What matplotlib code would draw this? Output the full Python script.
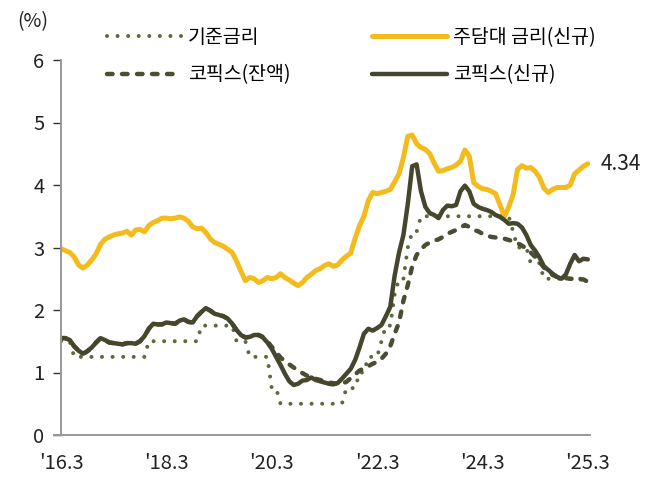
import numpy as np
import matplotlib.pyplot as plt

plt.rcParams['font.family'] = ['Noto Sans CJK KR', 'DejaVu Sans']
plt.rcParams['lines.scale_dashes'] = False

# monthly data, '16.3 onward (121 points)
base_rate = [1.5, 1.5, 1.5,
             1.25, 1.25, 1.25, 1.25, 1.25, 1.25, 1.25, 1.25, 1.25, 1.25,
             1.25, 1.25, 1.25, 1.25, 1.25, 1.25, 1.25,
             1.5, 1.5, 1.5, 1.5, 1.5, 1.5, 1.5, 1.5, 1.5, 1.5, 1.5, 1.5,
             1.75, 1.75, 1.75, 1.75, 1.75, 1.75, 1.75, 1.75,
             1.5, 1.5, 1.5,
             1.25, 1.25, 1.25, 1.25, 1.25,
             0.75, 0.75,
             0.5, 0.5, 0.5, 0.5, 0.5, 0.5, 0.5, 0.5, 0.5, 0.5, 0.5, 0.5,
             0.5, 0.5, 0.5,
             0.75, 0.75, 0.75,
             1.0, 1.0,
             1.25, 1.25, 1.25,
             1.5,
             1.75, 1.75,
             2.25,
             2.5, 2.5,
             3.0,
             3.25, 3.25,
             3.5, 3.5, 3.5, 3.5, 3.5, 3.5, 3.5, 3.5, 3.5, 3.5, 3.5, 3.5,
             3.5, 3.5, 3.5, 3.5, 3.5, 3.5, 3.5, 3.5, 3.5,
             3.25,
             3.0, 3.0, 3.0,
             2.75, 2.75, 2.75,
             2.5, 2.5, 2.5, 2.5, 2.5, 2.5, 2.5, 2.5, 2.5, 2.5, 2.5]

mortgage_new = [2.98, 2.95, 2.92, 2.85, 2.72, 2.67, 2.72, 2.80, 2.90, 3.05,
                3.13, 3.17, 3.20, 3.22, 3.23, 3.26, 3.20, 3.28, 3.29, 3.25,
                3.35, 3.40, 3.43, 3.47, 3.47, 3.46, 3.47, 3.49, 3.47, 3.42,
                3.33, 3.30, 3.31, 3.24, 3.14, 3.08, 3.05, 3.02, 2.97, 2.92,
                2.78, 2.62, 2.47, 2.52, 2.50, 2.44, 2.47, 2.52, 2.50, 2.52,
                2.58, 2.52, 2.48, 2.43, 2.39, 2.44, 2.52, 2.57, 2.63, 2.66,
                2.71, 2.74, 2.70, 2.72, 2.80, 2.86, 2.91, 3.15, 3.35, 3.50,
                3.75, 3.88, 3.86, 3.88, 3.90, 3.93, 4.05, 4.18, 4.44, 4.78,
                4.80, 4.66, 4.60, 4.57, 4.50, 4.35, 4.22, 4.23, 4.26, 4.28,
                4.32, 4.38, 4.56, 4.46, 4.04, 3.98, 3.94, 3.93, 3.90, 3.86,
                3.68, 3.50, 3.65, 3.85, 4.25, 4.31, 4.27, 4.28, 4.22, 4.12,
                3.95, 3.88, 3.93, 3.96, 3.96, 3.96, 4.00, 4.18, 4.24, 4.30,
                4.34]

cofix_new = [1.55, 1.55, 1.52, 1.42, 1.35, 1.30, 1.34, 1.40, 1.48, 1.55,
             1.52, 1.48, 1.47, 1.46, 1.45, 1.47, 1.47, 1.46, 1.50, 1.58,
             1.70, 1.78, 1.77, 1.77, 1.80, 1.79, 1.78, 1.83, 1.85, 1.81,
             1.80, 1.90, 1.97, 2.03, 1.99, 1.94, 1.92, 1.90, 1.86, 1.78,
             1.68, 1.60, 1.56, 1.57, 1.60, 1.60, 1.56, 1.48, 1.38, 1.25,
             1.12, 0.98, 0.86, 0.80, 0.82, 0.87, 0.88, 0.92, 0.88, 0.86,
             0.84, 0.82, 0.81, 0.83, 0.90, 0.98, 1.06, 1.20, 1.40, 1.62,
             1.70, 1.67, 1.71, 1.76, 1.90, 2.05, 2.55, 2.92, 3.20, 3.70,
             4.30, 4.33, 3.90, 3.65, 3.55, 3.52, 3.47, 3.60, 3.67, 3.66,
             3.68, 3.90, 3.99, 3.90, 3.70, 3.65, 3.62, 3.60, 3.57, 3.52,
             3.49, 3.44, 3.38, 3.39, 3.38, 3.32, 3.20, 3.04, 2.95, 2.84,
             2.70, 2.64, 2.58, 2.53, 2.50, 2.57, 2.74, 2.88, 2.78, 2.82,
             2.81]

cofix_bal = [1.55, 1.55, 1.52, 1.42, 1.35, 1.30, 1.34, 1.40, 1.48, 1.55,
             1.52, 1.48, 1.47, 1.46, 1.45, 1.47, 1.47, 1.46, 1.50, 1.58,
             1.70, 1.78, 1.77, 1.77, 1.80, 1.79, 1.78, 1.83, 1.85, 1.81,
             1.80, 1.90, 1.97, 2.03, 1.99, 1.94, 1.92, 1.90, 1.86, 1.78,
             1.68, 1.60, 1.56, 1.57, 1.60, 1.60, 1.57, 1.50, 1.41, 1.33,
             1.24, 1.18, 1.13, 1.08, 1.03, 0.99, 0.95, 0.93, 0.90, 0.88,
             0.86, 0.84, 0.83, 0.82, 0.82, 0.85, 0.91, 0.97, 1.03, 1.07,
             1.10, 1.14, 1.17, 1.22, 1.30, 1.42, 1.62, 1.80, 2.15, 2.40,
             2.70, 2.88, 2.97, 3.04, 3.08, 3.11, 3.13, 3.17, 3.22, 3.25,
             3.28, 3.32, 3.36, 3.33, 3.28, 3.26, 3.22, 3.19, 3.17, 3.16,
             3.15, 3.14, 3.12, 3.10, 3.07, 3.03, 2.98, 2.92, 2.85, 2.77,
             2.68, 2.62, 2.56, 2.53, 2.52, 2.51, 2.50, 2.50, 2.49, 2.49,
             2.45]

tick_pos = [0, 24, 48, 72, 96, 120]
tick_labels = ["'16.3", "'18.3", "'20.3", "'22.3", "'24.3", "'25.3"]

YELLOW = '#F3BC1C'
DARK = '#46462D'
DASH = '#4C4D33'
OLIVE = '#5B6A3A'

fig = plt.figure(figsize=(6.56, 4.82), dpi=100)
ax = fig.add_axes([61 / 656, 1 - 435 / 482, 529 / 656, 375 / 482])

x = np.arange(len(base_rate))
ax.plot(x, base_rate, color=OLIVE, lw=2.9, dashes=(0.01, 7.6),
        dash_capstyle='round', label='기준금리')
ax.plot(x, cofix_bal, color=DASH, lw=3.2, dashes=(4.0, 6.8),
        dash_capstyle='round', label='코픽스(잔액)')
ax.plot(x, mortgage_new, color=YELLOW, lw=3.6, solid_capstyle='round',
        label='주담대 금리(신규)')
ax.plot(x, cofix_new, color=DARK, lw=3.2, solid_capstyle='round',
        label='코픽스(신규)')

ax.annotate(f'{mortgage_new[-1]:.2f}', (x[-1], mortgage_new[-1]),
            xytext=(9, 0), textcoords='offset points', ha='left',
            va='center', fontsize=15, color='#222222')

ax.set_xlim(0, 120.5)
ax.set_ylim(0, 6)
ax.set_yticks(range(7))
ax.set_xticks(tick_pos)
ax.set_xticklabels(tick_labels)
ax.tick_params(axis='y', length=6, width=1, color='#333333', pad=6,
               labelsize=14.5, labelcolor='#222222')
ax.tick_params(axis='x', length=0, pad=13, labelsize=14.5,
               labelcolor='#222222')
for s in ['top', 'right']:
    ax.spines[s].set_visible(False)
for s in ['left', 'bottom']:
    ax.spines[s].set_color('#999999')
    ax.spines[s].set_linewidth(1.4)
ax.spines['bottom'].set_bounds(-1.5, 120.5)
ax.spines['bottom'].set_clip_on(False)

fig.text(17 / 656, 1 - 22 / 482, '(%)', fontsize=14, va='center',
         ha='left', color='#222222')

fig.legend(loc='upper left', bbox_to_anchor=(107 / 656, 1 - 27 / 482),
           ncol=2, frameon=False, fontsize=14, handlelength=3.85,
           handletextpad=0.3, columnspacing=4.2, labelspacing=0.85,
           borderpad=0, borderaxespad=0)

fig.savefig('out.png', dpi=100)
